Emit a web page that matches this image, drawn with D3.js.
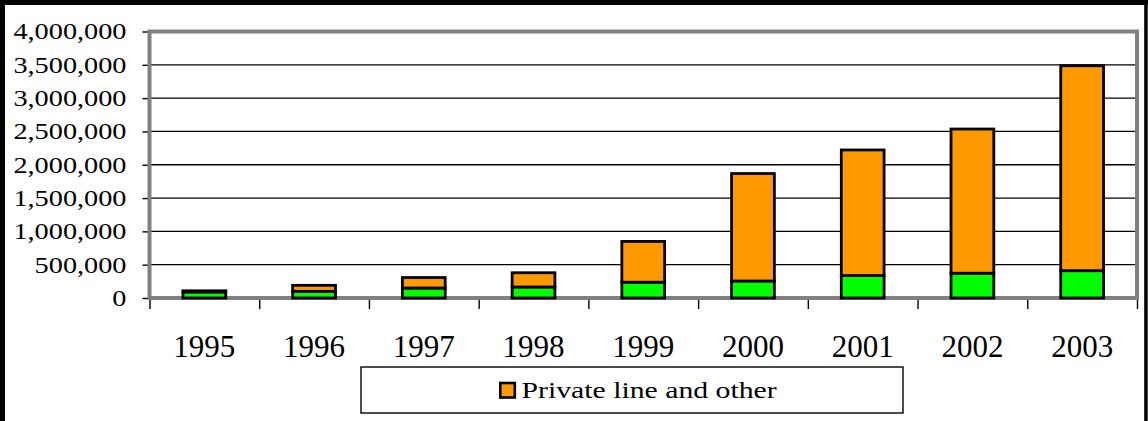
<!DOCTYPE html>
<html>
<head>
<meta charset="utf-8">
<script src="https://cdn.jsdelivr.net/npm/d3@7"></script>
<style>
    body { margin: 0; background: #fff; }
    svg { display: block; font-family: "Liberation Serif", "Times New Roman", serif; }
</style>
</head>
<body>
<svg id="chart"></svg>
<script>
// values
const years = ["1995", "1996", "1997", "1998", "1999", "2000", "2001", "2002", "2003"];
const lowerValues = [90000, 100000, 150000, 165000, 237000, 255000, 337000, 372000, 410000];
const privateLineValues = [18000, 90000, 157000, 214000, 612000, 1613000, 1885000, 2164000, 3076000];
const seriesKeys = ["lower", "privateLine"];
const seriesColors = ["#00ff00", "#ff9900"];
const legendKeys = ["privateLine"];
const legendLabels = ["Private line and other"];
const yTicks = [0, 500000, 1000000, 1500000, 2000000, 2500000, 3000000, 3500000, 4000000];

class StackedColumns {
    margin = {
        top: 31.5, right: 11, bottom: 123, left: 149.5
    }

    constructor(svg, data, width = 1148, height = 421) {
        this.svg = svg;
        this.data = data;
        this.width = width;
        this.height = height;
        this.w = width - this.margin.left - this.margin.right;
        this.h = height - this.margin.top - this.margin.bottom;
    }

    initialize() {
        this.svg = d3.select(this.svg)
            .attr("width", this.width)
            .attr("height", this.height);

        // black frame, left / top / right
        this.svg.append("rect").attr("x", 0).attr("y", 0).attr("width", 5).attr("height", this.height).attr("fill", "#000");
        this.svg.append("rect").attr("x", 0).attr("y", 0).attr("width", this.width).attr("height", 5).attr("fill", "#000");
        this.svg.append("rect").attr("x", this.width - 3.8).attr("y", 0).attr("width", 3.5).attr("height", this.height).attr("fill", "#000");

        this.container = this.svg.append("g")
            .attr("transform", `translate(${this.margin.left}, ${this.margin.top})`);
        this.grid = this.container.append("g");
        this.xTicks = this.container.append("g").attr("transform", `translate(0, ${this.h})`);
        this.xAxis = this.container.append("g").attr("transform", `translate(0, ${this.h})`);
        this.yAxis = this.container.append("g");
        this.frame = this.container.append("rect");
        this.bars = this.container.append("g");
        this.legend = this.svg.append("g");

        this.xScale = d3.scaleBand().paddingInner(0.61).paddingOuter(0.305);
        this.boundScale = d3.scaleLinear();
        this.yScale = d3.scaleLinear();
        this.zScale = d3.scaleOrdinal().domain(seriesKeys).range(seriesColors);
    }

    update() {
        this.xScale.domain(years).range([0, this.w]);
        this.boundScale.domain([0, years.length]).range([0, this.w]);
        this.yScale.domain([0, 4000000]).range([this.h, 0]);

        this.grid.selectAll("line")
            .data(yTicks)
            .join("line")
            .attr("x1", 0)
            .attr("x2", this.w)
            .attr("y1", d => this.yScale(d))
            .attr("y2", d => this.yScale(d))
            .attr("stroke", "#000")
            .attr("stroke-width", 1.3);

        // tick marks between the categories
        this.xTicks.call(d3.axisBottom(this.boundScale)
            .tickValues(d3.range(years.length + 1))
            .tickSize(11)
            .tickFormat(""));
        this.xTicks.select(".domain").remove();
        this.xTicks.selectAll(".tick line").attr("stroke", "#000").attr("stroke-width", 1.4);

        this.xAxis.call(d3.axisBottom(this.xScale).tickSize(0));
        this.xAxis.select(".domain").remove();
        this.xAxis.selectAll(".tick text")
            .attr("y", 58.7)
            .attr("dy", null)
            .attr("fill", "#000")
            .style("font-family", "Liberation Serif")
            .style("font-size", "31px");

        // y labels in the picture are wider than the font, stretch them sideways
        const sx = 1.23;
        this.yAxis.call(d3.axisLeft(this.yScale)
            .tickValues(yTicks)
            .tickSize(7)
            .tickPadding(16)
            .tickFormat(d3.format(",")));
        this.yAxis.select(".domain").remove();
        this.yAxis.selectAll(".tick line").attr("stroke", "#000").attr("stroke-width", 1.4);
        this.yAxis.selectAll(".tick text")
            .attr("x", -23 / sx)
            .attr("transform", `scale(${sx}, 1)`)
            .attr("fill", "#000")
            .style("font-family", "Liberation Serif")
            .style("font-size", "23px");

        this.frame
            .attr("width", this.w)
            .attr("height", this.h)
            .attr("fill", "none")
            .attr("stroke", "#808080")
            .attr("stroke-width", 4);

        const stacked = d3.stack().keys(seriesKeys)(this.data);

        this.bars.selectAll("g")
            .data(stacked)
            .join("g")
            .attr("fill", d => this.zScale(d.key))
            .selectAll("rect")
            .data(d => d)
            .join("rect")
            .attr("x", d => this.xScale(d.data.year))
            .attr("y", d => this.yScale(d[1]))
            .attr("width", this.xScale.bandwidth())
            .attr("height", d => this.yScale(d[0]) - this.yScale(d[1]))
            .attr("stroke", "#000")
            .attr("stroke-width", 2.8);

        // legend
        const box = { x: 361, y: 367, width: 542, height: 46 };
        this.legend.attr("transform", `translate(${box.x}, ${box.y})`);
        this.legend.append("rect")
            .attr("width", box.width)
            .attr("height", box.height)
            .attr("fill", "#fff")
            .attr("stroke", "#000")
            .attr("stroke-width", 1.4);

        const items = this.legend.selectAll("g.item")
            .data(legendKeys)
            .join("g")
            .attr("class", "item")
            .attr("transform", "translate(138, 0)");

        items.append("rect")
            .attr("x", 1.3)
            .attr("y", 16)
            .attr("width", 14.5)
            .attr("height", 14.5)
            .attr("fill", d => this.zScale(d))
            .attr("stroke", "#000")
            .attr("stroke-width", 2.6);

        items.append("text")
            .attr("transform", "translate(22.5, 30.7) scale(1.24, 1)")
            .attr("fill", "#000")
            .style("font-family", "Liberation Serif")
            .style("font-size", "24px")
            .text((d, i) => legendLabels[i]);
    }
}

const table = years.map((y, i) => ({ year: y, lower: lowerValues[i], privateLine: privateLineValues[i] }));

const chart = new StackedColumns(document.getElementById("chart"), table);
chart.initialize();
chart.update();
</script>
</body>
</html>
